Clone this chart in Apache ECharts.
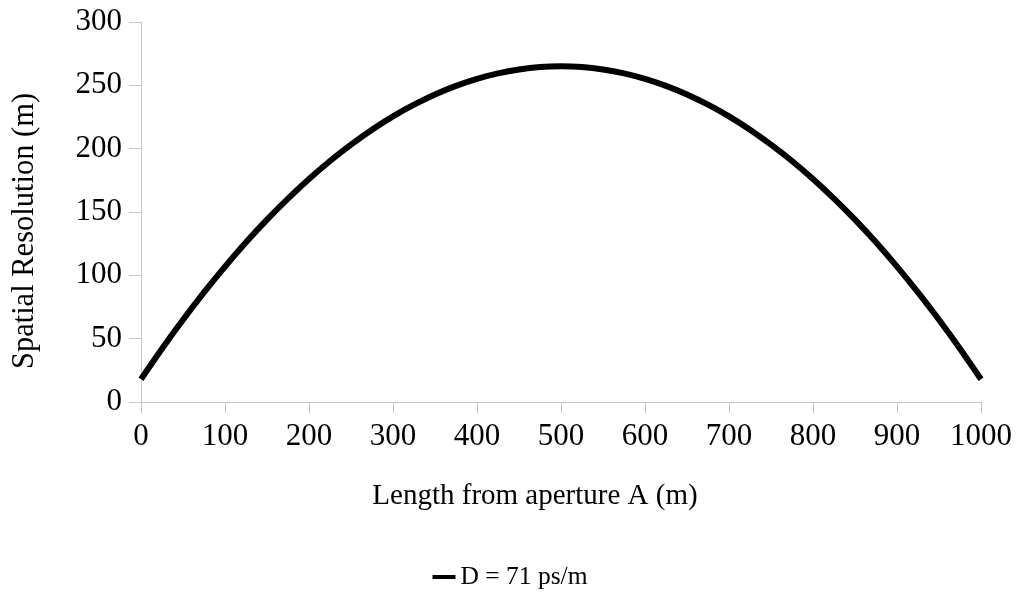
<!DOCTYPE html>
<html>
<head>
<meta charset="utf-8">
<script src="https://cdn.jsdelivr.net/npm/echarts@6/dist/echarts.min.js"></script>
<style>
  html, body { margin: 0; padding: 0; background: #ffffff; }
  #chart { width: 1020px; height: 598px; }
</style>
</head>
<body>
<div id="chart"></div>
<script>
// Distance along the fibre from aperture A (m)
var lengths = [0, 25, 50, 75, 100, 125, 150, 175, 200, 225, 250, 275, 300, 325, 350, 375, 400, 425, 450, 475, 500,
               525, 550, 575, 600, 625, 650, 675, 700, 725, 750, 775, 800, 825, 850, 875, 900, 925, 950, 975, 1000];
// Spatial resolution (m) for D = 71 ps/m
var resolution = [18, 42.1, 64.9, 86.5, 106.9, 126.1, 144, 160.6, 176.1, 190.3, 203.2, 215, 225.5, 234.7, 242.8, 249.6, 255.1, 259.4, 262.5, 264.4, 265,
                  264.4, 262.5, 259.4, 255.1, 249.6, 242.8, 234.7, 225.5, 215, 203.2, 190.3, 176.1, 160.6, 144, 126.1, 106.9, 86.5, 64.9, 42.1, 18];
var seriesName = 'D = 71 ps/m';
var xTitle = 'Length from aperture A (m)';
var yTitle = 'Spatial Resolution (m)';

var points = lengths.map(function (x, i) { return [x, resolution[i]]; });

var font = 'Liberation Serif';
var axisGray = '#c6c6c6';
var plainNumber = function (v) { return String(v); };

var chart = echarts.init(document.getElementById('chart'));
chart.setOption({
  backgroundColor: '#ffffff',
  animation: false,
  grid: { left: 141, right: 39, top: 22, bottom: 196, containLabel: false },
  xAxis: {
    type: 'value',
    min: 0, max: 1000, interval: 100,
    name: xTitle,
    nameLocation: 'middle',
    nameGap: 80,
    nameTextStyle: { fontFamily: font, fontSize: 29, color: '#000', padding: [0, 52, 0, 0] },
    axisLine: { show: true, lineStyle: { color: axisGray, width: 1 } },
    axisTick: { show: true, length: 11, lineStyle: { color: axisGray } },
    axisLabel: { fontFamily: font, fontSize: 31, color: '#000', margin: 19, formatter: plainNumber },
    splitLine: { show: false }
  },
  yAxis: {
    type: 'value',
    min: 0, max: 300, interval: 50,
    name: yTitle,
    nameLocation: 'middle',
    nameGap: 101,
    nameTextStyle: { fontFamily: font, fontSize: 30.5, color: '#000', padding: [0, 38, 0, 0] },
    axisLine: { show: true, lineStyle: { color: axisGray, width: 1 } },
    axisTick: { show: true, length: 12, lineStyle: { color: axisGray } },
    axisLabel: { fontFamily: font, fontSize: 31, color: '#000', margin: 19, formatter: plainNumber },
    splitLine: { show: false }
  },
  legend: {
    bottom: 3,
    left: 'center',
    itemWidth: 23,
    itemHeight: 4,
    itemGap: 5,
    icon: 'rect',
    textStyle: { fontFamily: font, fontSize: 25.5, color: '#000' },
    data: [seriesName]
  },
  series: [{
    name: seriesName,
    type: 'line',
    data: points,
    smooth: 0.3,
    showSymbol: false,
    symbol: 'none',
    lineStyle: { color: '#000000', width: 6, cap: 'butt' },
    itemStyle: { color: '#000000' }
  }]
});
</script>
</body>
</html>
